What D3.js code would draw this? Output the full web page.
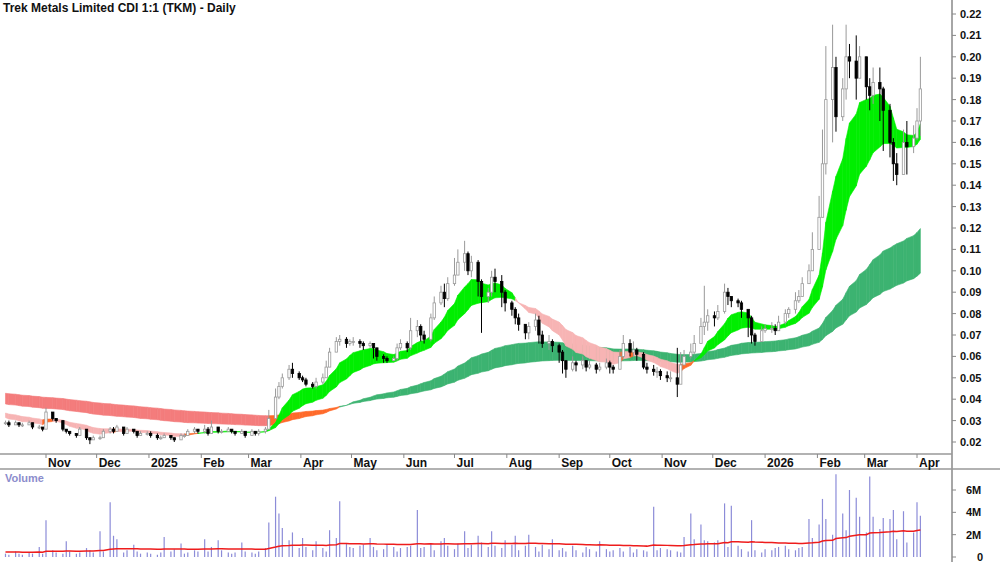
<!DOCTYPE html>
<html><head><meta charset="utf-8">
<script src="https://cdn.jsdelivr.net/npm/d3@7/dist/d3.min.js"></script>
<style>body{margin:0;background:#fff}svg{display:block;font-family:"Liberation Sans",Arial,sans-serif}</style>
</head><body><svg id="c" width="1000" height="562"></svg>
<script>
const closes=[
.029,.028,.029,.028,.028,.029,.027,.027,.026,
.034,.031,.030,.026,.025,.024,.023,.026,.022,.021,.022,
.022,.025,.026,.025,.027,.024,.026,.025,.023,.024,.024,
.023,.022,.022,.023,.022,.021,.023,.023,.025,.026,.025,
.026,.024,.027,.025,.025,.026,.025,.024,.025,.023,
.025,.024,.025,.026,.031,.041,.046,.050,.054,.052,.050,
.049,.047,.046,.048,.050,.055,.062,.067,.068,.066,.067,
.067,.066,.065,.066,.064,.060,.059,.058,.059,.064,.066,
.064,.072,.074,.070,.068,.078,.085,.090,.087,.094,.098,
.104,.108,.100,.104,.095,.088,.090,.097,.095,.090,.085,.082,
.078,.075,.071,.074,.077,.070,.066,.067,.065,.062,.058,
.054,.057,.056,.058,.055,.056,.054,.055,.057,.055,.054,
.060,.066,.062,.063,.061,.055,.054,.053,.053,.051,.050,
.050,.047,.056,.060,.062,.066,.074,.076,.079,.078,
.081,.090,.088,.086,.085,.082,.078,.070,.067,.072,.073,
.073,.072,.076,.080,.082,.086,.088,.094,.100,.110,.125,
.150,.180,.195,.172,.185,.200,.198,.190,.200,.186,
.182,.188,.185,.175,.160,.150,.145,.160,.158,.162,.170,
.185];
const highs=[
.030,.030,.030,.029,.029,.030,.029,.028,.027,
.036,.034,.031,.030,.026,.025,.024,.027,.026,.022,.023,
.023,.026,.027,.027,.028,.027,.027,.026,.025,.025,.025,
.025,.024,.023,.024,.023,.022,.024,.024,.026,.027,.026,
.028,.027,.030,.027,.026,.027,.026,.025,.026,.025,
.026,.025,.026,.027,.035,.045,.048,.052,.056,.057,.053,
.051,.050,.048,.050,.052,.058,.064,.069,.070,.069,.068,
.069,.068,.067,.067,.066,.064,.061,.060,.060,.066,.068,
.067,.078,.077,.075,.072,.080,.088,.093,.094,.097,.106,
.110,.114,.109,.107,.105,.096,.092,.100,.101,.098,.091,.086,
.083,.080,.075,.076,.080,.079,.072,.070,.068,.066,.063,
.058,.060,.058,.060,.058,.058,.057,.057,.059,.058,.056,
.063,.070,.068,.067,.064,.062,.057,.056,.055,.054,.053,
.053,.064,.062,.063,.066,.070,.078,.093,.082,.081,
.084,.094,.092,.088,.087,.086,.080,.079,.071,.074,.075,
.076,.075,.079,.082,.083,.090,.091,.097,.103,.118,.135,
.166,.205,.215,.200,.190,.215,.206,.210,.205,.200,
.190,.195,.195,.186,.178,.162,.155,.166,.170,.168,.176,
.200];
const lows=[
.028,.027,.028,.027,.027,.028,.026,.026,.025,
.026,.030,.029,.025,.024,.023,.022,.023,.021,.019,.021,
.021,.022,.024,.024,.025,.023,.024,.024,.022,.023,.023,
.022,.021,.021,.022,.021,.020,.021,.022,.023,.024,.024,
.024,.023,.024,.024,.024,.025,.024,.023,.024,.022,
.024,.023,.023,.024,.026,.031,.040,.045,.049,.050,.049,
.048,.046,.045,.045,.047,.050,.055,.062,.065,.064,.065,
.065,.064,.063,.064,.059,.058,.057,.057,.058,.058,.063,
.062,.063,.069,.067,.066,.067,.077,.084,.083,.086,.093,
.098,.100,.098,.097,.088,.071,.085,.088,.090,.083,.081,.079,
.075,.072,.068,.068,.072,.066,.064,.063,.062,.057,.052,
.050,.053,.053,.054,.053,.054,.052,.053,.054,.052,.052,
.056,.059,.060,.060,.058,.054,.052,.051,.050,.049,.048,
.048,.041,.048,.057,.059,.061,.066,.070,.072,.074,
.077,.080,.084,.083,.083,.078,.069,.066,.065,.067,.071,
.071,.070,.072,.075,.078,.080,.085,.088,.094,.100,.110,
.125,.145,.160,.165,.170,.180,.190,.180,.190,.180,
.175,.178,.170,.156,.153,.142,.140,.150,.145,.155,.161,
.163];
const volumesM=[
.3,.2,.5,.3,.2,.4,.3,.9,.3,
3.3,.6,.4,.3,1.4,.5,.3,.4,.8,.6,.4,
2.3,.5,4.9,1.9,1.6,.4,.6,1.1,.5,.3,.4,
.3,.2,.4,1.8,.5,.7,1.2,.3,.4,.6,.5,
1.6,.5,.9,1.5,.6,.4,.3,.4,1.3,.5,
.4,.3,.5,.8,3.1,5.4,3.9,2.6,1.5,2.2,.8,
1.7,.9,.6,1.4,.8,.5,2.4,1.7,5.0,1.2,.9,
.8,1.0,1.1,1.7,.9,.6,.7,1.1,.9,.5,.8,
.9,1.0,4.2,.8,.9,1.2,.6,1.4,1.7,1.0,.7,
1.2,2.3,.8,1.1,1.9,1.3,.9,2.3,1.0,.8,1.5,1.1,
1.9,.6,1.0,2.0,.9,.5,1.1,.7,1.6,.6,.8,
.5,1.0,.6,.4,.9,.7,.5,1.4,.7,.5,.6,
.8,.5,.9,.4,.7,.6,.5,4.5,.6,.8,.7,
.6,.5,.4,1.8,3.9,1.6,2.9,1.5,1.4,1.3,
1.5,4.8,.9,4.6,1.0,.7,.5,3.3,.6,.4,.7,
.6,.8,.9,1.0,.7,.6,.8,.9,3.4,1.7,2.9,
5.2,3.4,2.0,7.4,3.9,2.4,6.0,5.3,3.6,2.2,
7.2,3.6,2.5,3.5,3.4,4.2,1.6,4.1,1.3,2.2,4.9,
3.7];
const monthLabels=["Nov","Dec","2025","Feb","Mar","Apr","May","Jun","Jul","Aug","Sep","Oct","Nov","Dec","2026","Feb","Mar","Apr"];
const monthStarts=["2024-11-01","2024-12-01","2025-01-01","2025-02-01","2025-03-01","2025-04-01","2025-05-01","2025-06-01","2025-07-01","2025-08-01","2025-09-01","2025-10-01","2025-11-01","2025-12-01","2026-01-01","2026-02-01","2026-03-01","2026-04-01"];
const priceTicks=[.02,.03,.04,.05,.06,.07,.08,.09,.10,.11,.12,.13,.14,.15,.16,.17,.18,.19,.20,.21,.22];
const volTicks=[0,2,4,6];
const startDate="2024-10-08";
const shortSeed=[0.032,0.034], longSeed=[0.038,0.043], volAvgSeed=0.45;

const dates=[];{let d=new Date(startDate+"T00:00:00"),k=0;while(dates.length<closes.length){const w=d.getDay();if(w!==0&&w!==6){if(k%2===0)dates.push(new Date(d));k++;}d=new Date(d.getTime()+864e5);}}
const parse=d3.timeParse("%Y-%m-%d");
const x=d3.scaleTime().domain([parse("2024-11-01"),parse("2026-04-01")]).range([46,917]);
const y=d3.scaleLinear().domain([0.02,0.22]).range([442,14]);
const yv=d3.scaleLinear().domain([0,6]).range([557,490]);
const svg=d3.select("#c");

function ema(arr,p,seed){const a=2/(p+1);let v=seed;return arr.map(c=>v=v+a*(c-v));}
const sF=ema(closes,9,shortSeed[0]),sS=ema(closes,21,shortSeed[1]);
const lF=ema(closes,72,longSeed[0]),lS=ema(closes,125,longSeed[1]);
const vAvg=ema(volumesM,72,volAvgSeed);

function ribbon(f,s,up,flat,down){
  const col=f.map((v,i)=>{if(v>=s[i])return up;const sl=i>0?s[i]-s[i-1]:-1;return sl>=0?flat:down;});
  for(let i=0;i<f.length-1;i++){
    const pts=[[x(dates[i]),y(f[i])],[x(dates[i+1]),y(f[i+1])],[x(dates[i+1]),y(s[i+1])],[x(dates[i]),y(s[i])]];
    svg.append("path").attr("d","M"+pts.join("L")+"Z").attr("fill",col[i+1]).attr("stroke",col[i+1]).attr("stroke-width",0.6);
  }
}
ribbon(lF,lS,"#3cb371","#ff6a2a","#f47c7c");
ribbon(sF,sS,"#00ee00","#ff6a2a","#f7b4b4");

closes.forEach((c,i)=>{
  const o=i>0?closes[i-1]:c, xi=x(dates[i]), up=c>=o;
  svg.append("line").attr("x1",xi).attr("x2",xi).attr("y1",y(highs[i])).attr("y2",y(lows[i])).attr("stroke",up?"#999":"#000").attr("stroke-width",1);
  const t=y(Math.max(o,c)),b=y(Math.min(o,c));
  svg.append("rect").attr("x",xi-1.2).attr("width",2.4).attr("y",t).attr("height",Math.max(1,b-t)).attr("fill",up?"#fff":"#000").attr("stroke",up?"#999":"#000").attr("stroke-width",0.8);
});

svg.append("line").attr("x1",952).attr("x2",952).attr("y1",0).attr("y2",562).attr("stroke","#888").attr("stroke-width",1.5);
priceTicks.forEach(t=>{
  svg.append("line").attr("x1",952).attr("x2",956).attr("y1",y(t)).attr("y2",y(t)).attr("stroke","#888");
  svg.append("text").attr("x",960).attr("y",y(t)+4).text(t.toFixed(2)).attr("font-size",11).attr("font-weight","bold").attr("fill","#111");
});
svg.append("line").attr("x1",0).attr("x2",952).attr("y1",454).attr("y2",454).attr("stroke","#999").attr("stroke-width",1.5);
svg.append("line").attr("x1",0).attr("x2",1000).attr("y1",469).attr("y2",469).attr("stroke","#999").attr("stroke-width",1.5);
monthStarts.forEach((m,i)=>{
  const xm=x(parse(m));
  svg.append("line").attr("x1",xm).attr("x2",xm).attr("y1",454).attr("y2",458).attr("stroke","#888");
  svg.append("text").attr("x",xm+2).attr("y",467).text(monthLabels[i]).attr("font-size",12).attr("font-weight","bold").attr("fill","#111");
});
svg.append("text").attr("x",5).attr("y",482).text("Volume").attr("font-size",11).attr("font-weight","bold").attr("fill","#8c8ccc");
volumesM.forEach((v,i)=>{const xi=x(dates[i]);
  svg.append("line").attr("x1",xi).attr("x2",xi).attr("y1",yv(0)).attr("y2",yv(v)).attr("stroke","#8c8cd8").attr("stroke-width",1.2);});
svg.append("path").datum(vAvg).attr("d",d3.line().x((d,i)=>x(dates[i])).y(d=>yv(d))).attr("fill","none").attr("stroke","#ee1c1c").attr("stroke-width",1.5);
volTicks.forEach(t=>{
  svg.append("line").attr("x1",952).attr("x2",956).attr("y1",yv(t)).attr("y2",yv(t)).attr("stroke","#888");
  svg.append("text").attr("x",t===0?977:966).attr("y",yv(t)+4).text(t===0?"0":t+"M").attr("font-size",11).attr("font-weight","bold").attr("fill","#111");
});
svg.append("text").attr("x",3).attr("y",12).text("Trek Metals Limited CDI 1:1 (TKM) - Daily").attr("font-size",12).attr("font-weight","bold").attr("fill","#111");
</script></body></html>
